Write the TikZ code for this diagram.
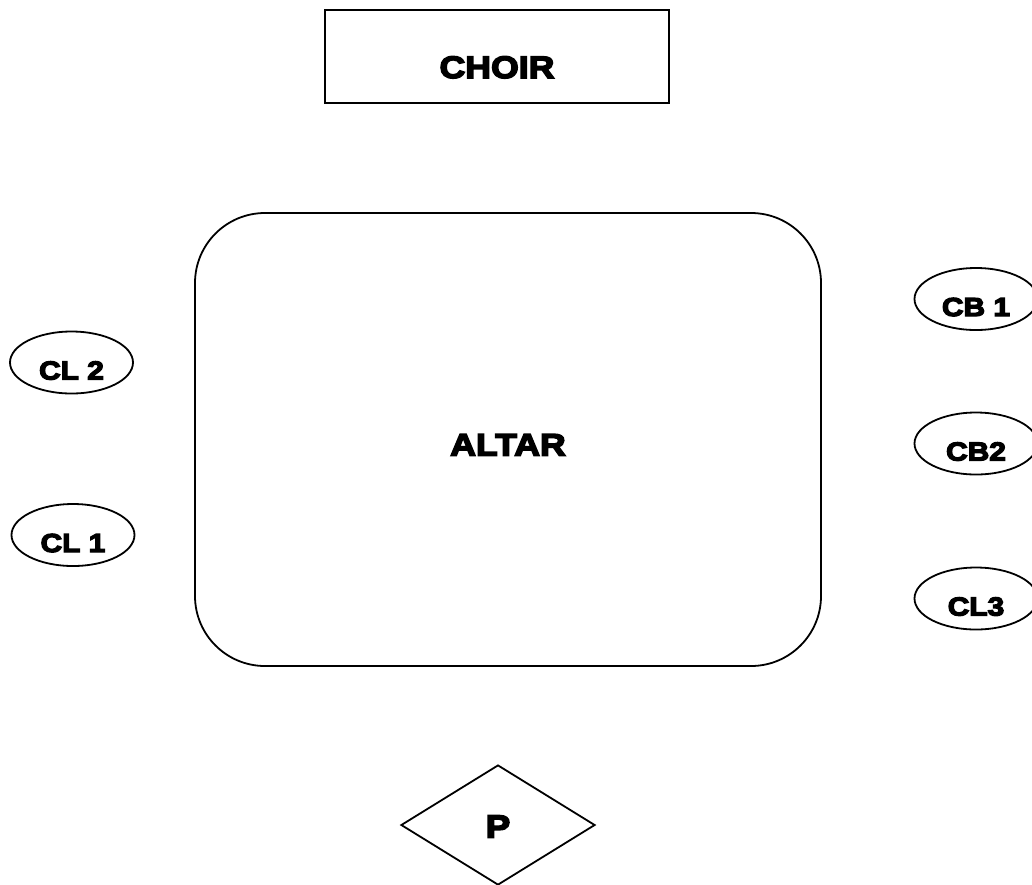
\documentclass[tikz,border=0pt]{standalone}
\usepackage{fontspec}
\newfontfamily\lbl{Liberation Sans}[UprightFont={* Bold}, FakeBold=5, FakeStretch=1.15]
\usetikzlibrary{shapes.geometric}
\begin{document}
\begin{tikzpicture}[x=1pt,y=-1pt,
  shp/.style={draw=black, line width=1.8pt, inner sep=0pt},
  bigtxt/.style={font=\lbl\fontsize{31}{33}\selectfont},
  smalltxt/.style={font=\lbl\fontsize{26}{28}\selectfont},
  choirbox/.style={shp, rectangle, bigtxt, minimum width=344pt, minimum height=93pt, text height=43pt, text depth=0pt},
  altarbox/.style={shp, rectangle, rounded corners=70pt, bigtxt, minimum width=626pt, minimum height=453pt, text height=32pt, text depth=0pt},
  seat/.style={shp, ellipse, smalltxt, minimum width=123pt, minimum height=62pt, text height=34pt, text depth=0pt},
  priest/.style={shp, diamond, font=\lbl\fontsize{32}{34}\selectfont, minimum width=194pt, minimum height=120pt, text height=25pt, text depth=0pt}
]
\useasboundingbox (0,0) rectangle (1032,884);
\clip (0,0) rectangle (1032,884);
\node[choirbox] (choir) at (497,56.5) {CHOIR};
\node[altarbox] (altar) at (508,439.5) {ALTAR};
\node[seat] (cl2) at (71.5,362.5) {CL 2};
\node[seat] (cl1) at (73,535) {CL 1};
\node[seat] (cb1) at (976,299) {CB 1};
\node[seat] (cb2) at (976,443.5) {CB2};
\node[seat] (cl3) at (976,598.5) {CL3};
\node[priest] (p) at (498,825) {P};
\end{tikzpicture}
\end{document}
